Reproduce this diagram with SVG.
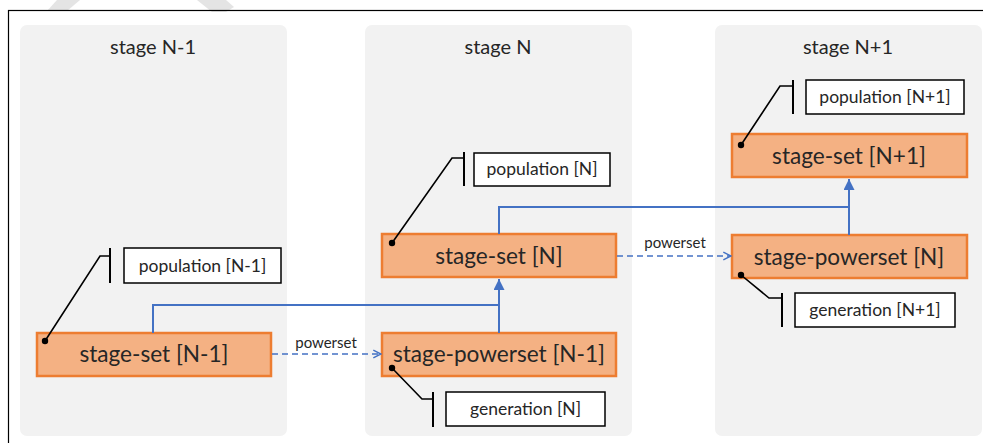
<svg xmlns="http://www.w3.org/2000/svg" width="983" height="443" viewBox="0 0 983 443">
  <style>
    .panel { fill: #f2f2f2; }
    .title { font-family: Lato, "Open Sans", sans-serif; font-size: 20px; fill: #262626; text-anchor: middle; }
    .stage rect { fill: #f4b183; stroke: #ed7d31; stroke-width: 2.5; }
    .stage text { font-family: Lato, "Open Sans", sans-serif; font-size: 22.6px; fill: #262626; text-anchor: middle; }
    .note rect { fill: #ffffff; stroke: #000000; stroke-width: 1.5; }
    .note text { font-family: Lato, "Open Sans", sans-serif; font-size: 17.5px; fill: #262626; text-anchor: middle; }
    .callout { fill: none; stroke: #000000; stroke-width: 1.6; }
    .bar { stroke: #000000; stroke-width: 2; }
    .dot { fill: #000000; }
    .flow { fill: none; stroke: #4472c4; stroke-width: 2; }
    .dashed { fill: none; stroke: #4472c4; stroke-width: 1.6; stroke-dasharray: 6 4; }
    .lbl { font-family: Lato, "Open Sans", sans-serif; font-size: 15px; fill: #262626; text-anchor: middle; }
  </style>
  <defs>
    <marker id="solidHead" viewBox="0 0 10 10" refX="10" refY="5" markerWidth="5.5" markerHeight="5.5" orient="auto" markerUnits="strokeWidth">
      <path d="M0,0 L10,5 L0,10 Z" fill="#4472c4"/>
    </marker>
    <marker id="openHead" viewBox="0 0 10 10" refX="9" refY="5" markerWidth="6" markerHeight="6" orient="auto" markerUnits="strokeWidth">
      <path d="M1,1 L9,5 L1,9" fill="none" stroke="#4472c4" stroke-width="1.5"/>
    </marker>
  </defs>

  <rect width="983" height="443" fill="#ffffff"/>

  <!-- faint stripes along the top edge -->
  <polygon points="57,0 80,0 67,11 47,11" fill="#e4e4e4"/>
  <polygon points="197,0 226,0 234,7 226,12 212,12" fill="#e4e4e4"/>

  <!-- outer frame -->
  <rect x="8.5" y="10.5" width="990" height="450" fill="none" stroke="#000000" stroke-width="1.2"/>

  <!-- stage panels -->
  <g id="panel-n-minus-1">
    <rect class="panel" x="20" y="25" width="267" height="411" rx="7"/>
    <text class="title" x="153" y="54">stage N-1</text>
  </g>
  <g id="panel-n">
    <rect class="panel" x="365" y="25" width="267" height="411" rx="7"/>
    <text class="title" x="498" y="54">stage N</text>
  </g>
  <g id="panel-n-plus-1">
    <rect class="panel" x="715" y="25" width="267" height="411" rx="7"/>
    <text class="title" x="848" y="54">stage N+1</text>
  </g>

  <!-- stage nodes -->
  <g id="stage-set-n-minus-1" class="stage">
    <rect x="37" y="333" width="234" height="43"/>
    <text x="154" y="362">stage-set [N-1]</text>
  </g>
  <g id="stage-powerset-n-minus-1" class="stage">
    <rect x="382" y="333" width="234" height="43"/>
    <text x="499" y="362">stage-powerset [N-1]</text>
  </g>
  <g id="stage-set-n" class="stage">
    <rect x="382" y="234" width="234" height="43"/>
    <text x="499" y="264">stage-set [N]</text>
  </g>
  <g id="stage-powerset-n" class="stage">
    <rect x="732" y="235" width="235" height="43"/>
    <text x="849" y="265">stage-powerset [N]</text>
  </g>
  <g id="stage-set-n-plus-1" class="stage">
    <rect x="732" y="134" width="235" height="43"/>
    <text x="849" y="164">stage-set [N+1]</text>
  </g>

  <!-- annotation nodes -->
  <g id="population-n-minus-1" class="note">
    <rect x="124" y="248" width="157" height="35"/>
    <text x="202.5" y="272">population [N-1]</text>
  </g>
  <g id="population-n" class="note">
    <rect x="474" y="153" width="136" height="33"/>
    <text x="542" y="175">population [N]</text>
  </g>
  <g id="population-n-plus-1" class="note">
    <rect x="806" y="80" width="158" height="34"/>
    <text x="885" y="103">population [N+1]</text>
  </g>
  <g id="generation-n" class="note">
    <rect x="446" y="392" width="159" height="34"/>
    <text x="525.5" y="415">generation [N]</text>
  </g>
  <g id="generation-n-plus-1" class="note">
    <rect x="795" y="293" width="160" height="34"/>
    <text x="875" y="316">generation [N+1]</text>
  </g>

  <!-- connectors (drawn last so the anchor dots sit on top of the nodes) -->
  <g id="connectors">
    <!-- stage-set [N-1] joins the stage-powerset [N-1] -> stage-set [N] line -->
    <polyline class="flow" points="153,333 153,305 499,305"/>
    <line class="flow" x1="499" y1="333" x2="499" y2="279" marker-end="url(#solidHead)"/>
    <!-- stage-set [N] joins the stage-powerset [N] -> stage-set [N+1] line -->
    <polyline class="flow" points="499,234 499,207 849,207"/>
    <line class="flow" x1="849" y1="235" x2="849" y2="179" marker-end="url(#solidHead)"/>

    <!-- powerset arrows -->
    <line class="dashed" x1="272" y1="354" x2="381" y2="354" marker-end="url(#openHead)"/>
    <text class="lbl" x="326" y="348">powerset</text>
    <line class="dashed" x1="617" y1="256" x2="731" y2="256" marker-end="url(#openHead)"/>
    <text class="lbl" x="675" y="248">powerset</text>

    <!-- callouts -->
    <polyline class="callout" points="45,341 100,256 110,256"/>
    <line class="bar" x1="110" y1="248" x2="110" y2="283"/>
    <circle class="dot" cx="45" cy="341" r="3.2"/>

    <polyline class="callout" points="392,243 452,158 464,158"/>
    <line class="bar" x1="464" y1="152" x2="464" y2="186"/>
    <circle class="dot" cx="392" cy="243" r="3.2"/>

    <polyline class="callout" points="741,145 780,86 793,86"/>
    <line class="bar" x1="793" y1="80" x2="793" y2="114"/>
    <circle class="dot" cx="741" cy="145" r="3.2"/>

    <polyline class="callout" points="392,368 422,399 433,399"/>
    <line class="bar" x1="433" y1="392" x2="433" y2="427"/>
    <circle class="dot" cx="392" cy="368" r="3.2"/>

    <polyline class="callout" points="741,275 769,298 782,298"/>
    <line class="bar" x1="782" y1="293" x2="782" y2="327"/>
    <circle class="dot" cx="741" cy="275" r="3.2"/>
  </g>
</svg>
